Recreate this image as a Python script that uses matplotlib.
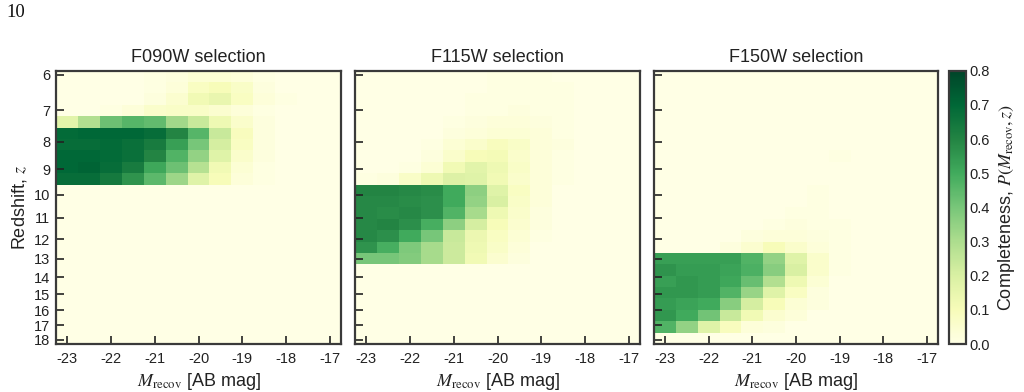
import numpy as np
import matplotlib
matplotlib.use("Agg")
import matplotlib.pyplot as plt

plt.rcParams['font.family'] = ['Liberation Sans', 'DejaVu Sans']
plt.rcParams['mathtext.fontset'] = 'stix'
plt.rcParams['axes.unicode_minus'] = False

# ---------------- data ----------------
panel_titles = ["F090W selection", "F115W selection", "F150W selection"]
mag_edges = [-23.25, -22.75, -22.25, -21.75, -21.25, -20.75, -20.25,
             -19.75, -19.25, -18.75, -18.25, -17.75, -17.25, -16.75]
z_min, z_max = 5.89, 18.31
n_z_bins = 24
x_ticks = [-23, -22, -21, -20, -19, -18, -17]
y_ticks = [6, 7, 8, 9, 10, 11, 12, 13, 14, 15, 16, 17, 18]
cbar_ticks = [0.0, 0.1, 0.2, 0.3, 0.4, 0.5, 0.6, 0.7, 0.8]

Z0 = [0] * 13

completeness_f090w = [
    [0, 0, 0, 0, 0.01, 0.02, 0.04, 0.04, 0.03, 0.01, 0, 0, 0],
    [0, 0, 0, 0, 0.01, 0.03, 0.08, 0.10, 0.07, 0.02, 0, 0, 0],
    [0, 0, 0, 0, 0.02, 0.05, 0.12, 0.15, 0.08, 0.03, 0.01, 0, 0],
    [0, 0, 0.01, 0.03, 0.06, 0.07, 0.07, 0.05, 0.03, 0.01, 0, 0, 0],
    [0.17, 0.29, 0.42, 0.46, 0.44, 0.32, 0.24, 0.13, 0.06, 0.02, 0, 0, 0],
    [0.69, 0.70, 0.70, 0.70, 0.68, 0.60, 0.46, 0.24, 0.09, 0.02, 0, 0, 0],
    [0.68, 0.68, 0.69, 0.67, 0.63, 0.53, 0.40, 0.21, 0.08, 0.02, 0, 0, 0],
    [0.70, 0.70, 0.69, 0.67, 0.60, 0.47, 0.35, 0.18, 0.06, 0.02, 0, 0, 0],
    [0.70, 0.71, 0.68, 0.63, 0.51, 0.42, 0.28, 0.12, 0.04, 0.01, 0, 0, 0],
    [0.68, 0.68, 0.64, 0.56, 0.45, 0.33, 0.18, 0.10, 0.03, 0.01, 0, 0, 0],
] + [Z0] * 14

completeness_f115w = [
    [0, 0, 0, 0, 0, 0, 0.01, 0.01, 0.01, 0, 0, 0, 0],
    [0, 0, 0, 0, 0, 0, 0.01, 0.01, 0.01, 0.01, 0, 0, 0],
    [0, 0, 0, 0, 0, 0.01, 0.01, 0.01, 0.01, 0.01, 0, 0, 0],
    [0, 0, 0, 0, 0, 0.01, 0.01, 0.02, 0.01, 0.01, 0, 0, 0],
    [0, 0, 0, 0, 0.01, 0.02, 0.03, 0.03, 0.02, 0.01, 0, 0, 0],
    [0, 0, 0, 0, 0.02, 0.03, 0.04, 0.04, 0.03, 0.01, 0, 0, 0],
    [0, 0, 0, 0.01, 0.04, 0.06, 0.09, 0.07, 0.03, 0.02, 0, 0, 0],
    [0, 0, 0, 0.02, 0.06, 0.10, 0.11, 0.06, 0.03, 0.01, 0, 0, 0],
    [0, 0, 0.01, 0.04, 0.12, 0.17, 0.13, 0.07, 0.03, 0.01, 0, 0, 0],
    [0.01, 0.02, 0.07, 0.13, 0.19, 0.18, 0.12, 0.06, 0.03, 0.01, 0, 0, 0],
    [0.60, 0.60, 0.59, 0.58, 0.50, 0.36, 0.18, 0.08, 0.03, 0, 0, 0, 0],
    [0.59, 0.59, 0.58, 0.57, 0.50, 0.35, 0.20, 0.07, 0.03, 0, 0, 0, 0],
    [0.59, 0.58, 0.59, 0.57, 0.47, 0.31, 0.13, 0.06, 0.02, 0, 0, 0, 0],
    [0.59, 0.60, 0.57, 0.49, 0.36, 0.21, 0.10, 0.05, 0.02, 0, 0, 0, 0],
    [0.59, 0.57, 0.50, 0.40, 0.24, 0.14, 0.08, 0.04, 0.01, 0, 0, 0, 0],
    [0.56, 0.49, 0.39, 0.31, 0.23, 0.13, 0.07, 0.03, 0, 0, 0, 0, 0],
    [0.40, 0.40, 0.38, 0.31, 0.23, 0.12, 0.05, 0.02, 0, 0, 0, 0, 0],
] + [Z0] * 7

completeness_f150w = [Z0] * 7 + [
    [0, 0, 0, 0, 0, 0, 0, 0, 0.01, 0, 0, 0, 0],
    Z0,
    Z0,
    [0, 0, 0, 0, 0, 0, 0, 0.01, 0, 0, 0, 0, 0],
    [0, 0, 0, 0, 0, 0, 0, 0.01, 0, 0, 0, 0, 0],
    [0, 0, 0, 0, 0, 0, 0.01, 0.01, 0, 0, 0, 0, 0],
    [0, 0, 0, 0, 0, 0.01, 0.02, 0.01, 0.01, 0, 0, 0, 0],
    [0, 0, 0, 0, 0.02, 0.03, 0.03, 0.02, 0.01, 0, 0, 0, 0],
    [0, 0, 0, 0.02, 0.05, 0.10, 0.06, 0.03, 0.01, 0, 0, 0, 0],
    [0.53, 0.53, 0.53, 0.53, 0.47, 0.35, 0.18, 0.06, 0.01, 0, 0, 0, 0],
    [0.56, 0.54, 0.54, 0.52, 0.48, 0.37, 0.20, 0.06, 0.01, 0, 0, 0, 0],
    [0.53, 0.55, 0.54, 0.51, 0.43, 0.29, 0.13, 0.04, 0, 0, 0, 0, 0],
    [0.55, 0.55, 0.54, 0.47, 0.34, 0.18, 0.08, 0.02, 0, 0, 0, 0, 0],
    [0.54, 0.52, 0.50, 0.37, 0.21, 0.10, 0.04, 0.02, 0, 0, 0, 0, 0],
    [0.55, 0.50, 0.41, 0.24, 0.12, 0.05, 0.03, 0, 0, 0, 0, 0, 0],
    [0.47, 0.35, 0.18, 0.09, 0.03, 0.02, 0, 0, 0, 0, 0, 0, 0],
    Z0,
]

panels = [completeness_f090w, completeness_f115w, completeness_f150w]

# ---------------- figure ----------------
W, H = 1024, 392
fig = plt.figure(figsize=(W / 100, H / 100), dpi=100)

def ax_rect(l, r, t, b):
    return [l / W, 1 - b / H, (r - l) / W, (b - t) / H]

rects = [ax_rect(56, 341, 70.7, 344),
         ax_rect(355, 640, 70.7, 344),
         ax_rect(654, 938, 70.7, 344)]

z_edges = 10 ** np.linspace(np.log10(1 + z_min), np.log10(1 + z_max), n_z_bins + 1) - 1
fwd = lambda z: np.log10(1 + np.asarray(z, dtype=float))
inv = lambda y: 10 ** np.asarray(y, dtype=float) - 1

spine_col = '#3a3a3a'
mesh = None
for i, (data, title) in enumerate(zip(panels, panel_titles)):
    ax = fig.add_axes(rects[i])
    ax.set_yscale('function', functions=(fwd, inv))
    mesh = ax.pcolormesh(mag_edges, z_edges, np.array(data), cmap='YlGn',
                         vmin=0, vmax=0.8, shading='flat', edgecolors='none',
                         antialiased=False)
    ax.set_xlim(mag_edges[0], mag_edges[-1])
    ax.set_ylim(z_max, z_min)
    ax.set_xticks(x_ticks)
    ax.set_xticklabels([str(v) for v in x_ticks])
    ax.set_yticks(y_ticks)
    ax.yaxis.set_minor_locator(matplotlib.ticker.NullLocator())
    ax.tick_params(direction='in', length=6, width=1.2, color='#222222',
                   labelsize=10.5, labelcolor='#222222', pad=4)
    ax.tick_params(axis='x', pad=6)
    if i == 0:
        ax.set_yticklabels([str(v) for v in y_ticks])
        ax.set_ylabel('Redshift, $z$', fontsize=13, color='#222222', labelpad=4)
    else:
        ax.set_yticklabels([])
    ax.set_xlabel(r'$M_{\rm recov}$ [AB mag]', fontsize=13, color='#222222', labelpad=3)
    ax.set_title(title, fontsize=13, color='#222222', pad=6)
    for s in ax.spines.values():
        s.set_color(spine_col)
        s.set_linewidth(1.6)

cax = fig.add_axes(ax_rect(948.5, 965.5, 70.7, 344))
cb = fig.colorbar(mesh, cax=cax, ticks=cbar_ticks)
cb.ax.set_yticklabels([f'{v:.1f}' for v in cbar_ticks])
cb.ax.tick_params(length=0, labelsize=10.5, labelcolor='#222222', pad=3)
cb.outline.set_edgecolor(spine_col)
cb.outline.set_linewidth(1.6)
cb.set_label(r'Completeness, $P(M_{\rm recov}, z)$', fontsize=13, color='#222222', labelpad=4)

fig.text(6 / W, 1 - 4 / H, '10', family='Liberation Serif', fontsize=13.5,
         va='top', ha='left', color='#111111')

fig.savefig('out.png', dpi=100)
